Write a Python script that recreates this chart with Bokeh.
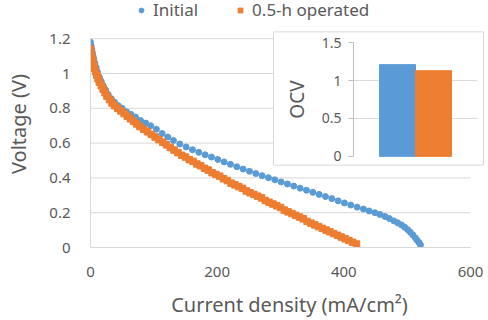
from bokeh.plotting import figure
from bokeh.models import (Legend, LegendItem, Range1d, FixedTicker, ColumnDataSource, LinearAxis)
from bokeh.embed import file_html
from bokeh.resources import INLINE

# ---- data ----
init_i = [0, 1, 2, 3, 4, 5, 7, 9, 11, 14, 17, 20, 24, 28, 33, 38, 44, 50, 57, 64, 71, 79, 87, 95,
          104, 113, 122, 131, 141, 151, 161, 171, 181, 191, 201, 211, 221, 231, 241, 251, 261, 271,
          281, 291, 301, 311, 321, 331, 341, 351, 361, 371, 381, 391, 401, 411, 421, 431, 440, 449,
          457, 465, 472, 479, 485, 491, 496, 501, 505, 509, 513, 516, 519, 521]
init_v = [1.18, 1.16, 1.14, 1.12, 1.10, 1.085, 1.06, 1.035, 1.01, 0.98, 0.955, 0.93, 0.905, 0.88,
          0.855, 0.835, 0.815, 0.80, 0.78, 0.765, 0.75, 0.73, 0.715, 0.70, 0.68, 0.655, 0.635, 0.615,
          0.595, 0.578, 0.562, 0.547, 0.533, 0.52, 0.506, 0.492, 0.478, 0.464, 0.451, 0.438, 0.425,
          0.413, 0.401, 0.389, 0.377, 0.365, 0.353, 0.341, 0.329, 0.317, 0.305, 0.293, 0.281, 0.268,
          0.256, 0.244, 0.232, 0.221, 0.21, 0.20, 0.19, 0.178, 0.166, 0.153, 0.142, 0.13, 0.117,
          0.102, 0.088, 0.072, 0.055, 0.04, 0.027, 0.015]

oper_i = [0, 1, 2, 3, 4, 5, 6, 8, 10, 12, 14, 17, 20, 23, 26, 30, 34, 38, 43, 48, 53, 58, 63, 68,
          73, 78, 84, 90, 96, 102, 108, 114, 120, 126, 132, 138, 144, 150, 156, 162, 168, 174, 180,
          186, 192, 198, 204, 210, 216, 222, 228, 234, 240, 246, 252, 258, 264, 270, 276, 282, 288,
          294, 300, 306, 312, 318, 324, 330, 336, 342, 348, 354, 360, 366, 372, 378, 384, 390, 396,
          402, 408, 414, 420]
oper_v = [1.14, 1.12, 1.10, 1.08, 1.06, 1.05, 1.03, 1.01, 0.99, 0.97, 0.95, 0.93, 0.91, 0.89, 0.87,
          0.85, 0.83, 0.815, 0.80, 0.785, 0.77, 0.755, 0.74, 0.725, 0.71, 0.695, 0.68, 0.665, 0.65,
          0.635, 0.62, 0.605, 0.59, 0.575, 0.56, 0.545, 0.53, 0.52, 0.505, 0.495, 0.48, 0.47, 0.455,
          0.445, 0.43, 0.42, 0.41, 0.395, 0.385, 0.37, 0.36, 0.35, 0.34, 0.325, 0.315, 0.305, 0.295,
          0.285, 0.27, 0.26, 0.25, 0.24, 0.23, 0.215, 0.205, 0.195, 0.185, 0.175, 0.165, 0.15, 0.14,
          0.13, 0.12, 0.11, 0.10, 0.09, 0.08, 0.07, 0.06, 0.05, 0.04, 0.03, 0.02]

series_names = ["Initial", "0.5-h operated"]
ocv_values = [1.21, 1.13]
x_ticks = [0, 200, 400, 600]
y_ticks = [0, 0.2, 0.4, 0.6, 0.8, 1.0, 1.2]
ocv_ticks = [0, 0.5, 1, 1.5]
ocv_grid = [0.5, 1]

BLUE = "#5B9BD5"
ORANGE = "#ED7D31"
TXT = "#595959"
GRID = "#D9D9D9"
FONT = "Noto Sans"

# ---- layout geometry (pixels in the 488 x 320 canvas) ----
W, H = 488, 320
FR_L, FR_R, FR_T, FR_B = 90, 488, 0, 252      # frame (extends to the top and right edges)
X600_PX, Y12_PX = 470, 39                      # where x=600 and y=1.2 sit
# inset
IN_BOX = (273, 483, 32, 168)                   # left, right, top, bottom of the inset chart box
IN_AREA_L, IN_AREA_R = 353, 477                # inset plot area
IN_Y0_PX, IN_Y15_PX = 159, 43                  # inset value 0 and 1.5
IN_BAR_PX, IN_BAR0_PX = 36, 397                # bar width and first bar centre

x_end = x_ticks[-1] * (FR_R - FR_L) / (X600_PX - FR_L)
y_end = y_ticks[-1] * (FR_B - FR_T) / (FR_B - Y12_PX)

ppu_y = (IN_Y0_PX - IN_Y15_PX) / ocv_ticks[-1]
ocv_start = -(FR_B - IN_Y0_PX) / ppu_y
ocv_end = ocv_start + (FR_B - FR_T) / ppu_y
ix_start = (FR_L - IN_BAR0_PX) / IN_BAR_PX
ix_end = (FR_R - IN_BAR0_PX) / IN_BAR_PX


def px_ix(px):
    return (px - IN_BAR0_PX) / IN_BAR_PX


def px_ocv(py):
    return ocv_start + (FR_B - py) / ppu_y


# ---- main plot ----
p = figure(width=W, height=H, output_backend="svg", toolbar_location=None,
           x_range=Range1d(0, x_end), y_range=Range1d(0, y_end),
           min_border_left=FR_L, min_border_right=W - FR_R, min_border_top=FR_T,
           min_border_bottom=H - FR_B)
p.outline_line_color = None
p.background_fill_color = "white"
p.border_fill_color = "white"
p.extra_x_ranges = {"ix": Range1d(ix_start, ix_end)}
p.extra_y_ranges = {"ocv": Range1d(ocv_start, ocv_end)}

# horizontal gridlines of the main chart, limited to 0..600
p.segment(x0=x_ticks[0], x1=x_ticks[-1], y0=y_ticks[1:], y1=y_ticks[1:], line_color=GRID, line_width=1)

r1 = p.scatter(init_i, init_v, marker="circle", size=6, color=BLUE)
r2 = p.scatter(oper_i, oper_v, marker="square", size=6.5, color=ORANGE)

p.xaxis.ticker = FixedTicker(ticks=x_ticks)
p.yaxis.ticker = FixedTicker(ticks=y_ticks)
p.xaxis.bounds = (x_ticks[0], x_ticks[-1])
p.yaxis.bounds = (y_ticks[0], y_ticks[-1])
p.xaxis.major_label_overrides = {0: "0", 200: "200", 400: "400", 600: "600"}
p.yaxis.major_label_overrides = {0: "0", 0.2: "0.2", 0.4: "0.4", 0.6: "0.6", 0.8: "0.8", 1.0: "1", 1.2: "1.2"}
for ax in (p.xaxis[0], p.yaxis[0]):
    ax.major_tick_line_color = None
    ax.minor_tick_line_color = None
    ax.axis_line_color = GRID
    ax.major_label_text_color = TXT
    ax.major_label_text_font = FONT
    ax.major_label_text_font_size = "15px"
    ax.axis_label_text_color = TXT
    ax.axis_label_text_font = FONT
    ax.axis_label_text_font_style = "normal"
    ax.axis_label_text_font_size = "20px"
p.xaxis.axis_label = "Current density (mA/cm²)"
p.yaxis.axis_label = "Voltage (V)"
p.xaxis.major_label_standoff = 13
p.yaxis.major_label_standoff = 14
p.xaxis.axis_label_standoff = 11
p.yaxis.axis_label_standoff = 14
p.xgrid.grid_line_color = None
p.ygrid.grid_line_color = None

# ---- inset (drawn in its own ranges inside the same canvas) ----
p.quad(left=px_ix(IN_BOX[0]), right=px_ix(IN_BOX[1]), top=px_ocv(IN_BOX[2]), bottom=px_ocv(IN_BOX[3]),
       fill_color="white", line_color=GRID, line_width=1, x_range_name="ix", y_range_name="ocv")
p.segment(x0=px_ix(IN_AREA_L), x1=px_ix(IN_AREA_R), y0=ocv_grid, y1=ocv_grid,
          line_color=GRID, line_width=1, x_range_name="ix", y_range_name="ocv")
src = ColumnDataSource(dict(x=list(range(len(series_names))), top=ocv_values, color=[BLUE, ORANGE],
                            name=series_names))
p.vbar(x="x", top="top", bottom=0, width=1.0, color="color", source=src,
       x_range_name="ix", y_range_name="ocv")

in_axis = LinearAxis(x_range_name="ix", y_range_name="ocv", fixed_location=px_ix(IN_AREA_L),
                     bounds=(ocv_ticks[0], ocv_ticks[-1]), ticker=FixedTicker(ticks=ocv_ticks),
                     axis_label="OCV")
in_axis.major_label_overrides = {0: "0", 0.5: "0.5", 1: "1", 1.5: "1.5"}
in_axis.axis_line_color = "#BFBFBF"
in_axis.major_tick_line_color = "#BFBFBF"
in_axis.major_tick_out = 5
in_axis.major_tick_in = 0
in_axis.minor_tick_line_color = None
in_axis.major_label_text_color = TXT
in_axis.major_label_text_font = FONT
in_axis.major_label_text_font_size = "14px"
in_axis.major_label_standoff = 7
in_axis.axis_label_text_color = TXT
in_axis.axis_label_text_font = FONT
in_axis.axis_label_text_font_style = "normal"
in_axis.axis_label_text_font_size = "19px"
in_axis.axis_label_standoff = 9
p.add_layout(in_axis, "left")

# ---- legend ----
legend = Legend(items=[LegendItem(label=series_names[0], renderers=[r1]),
                       LegendItem(label=series_names[1], renderers=[r2])],
                orientation="horizontal", location=(45, 226),
                label_text_font=FONT, label_text_font_size="17px", label_text_color=TXT,
                glyph_width=12, glyph_height=20, label_height=20, label_standoff=6,
                spacing=36, padding=0, margin=0, border_line_color=None,
                background_fill_alpha=0)
p.add_layout(legend, "center")

open("out.html", "w").write(file_html(p, INLINE))
